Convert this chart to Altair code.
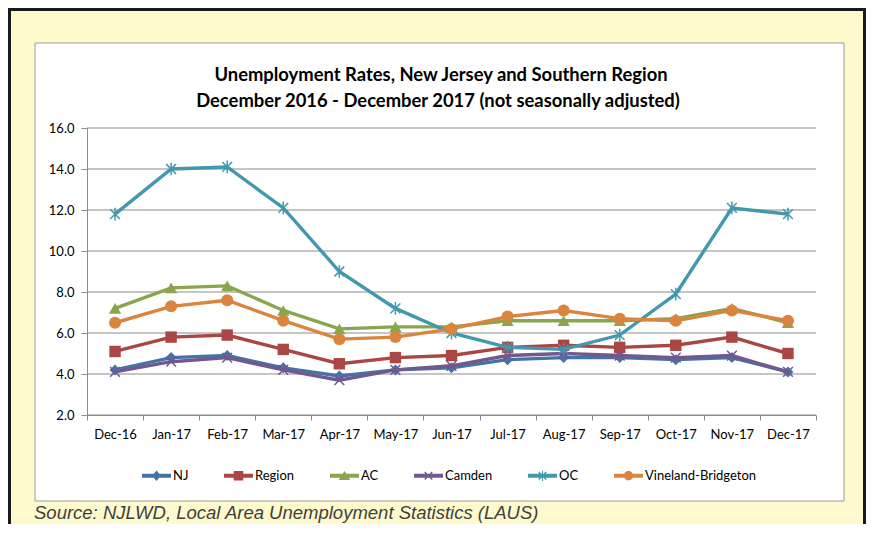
import altair as alt
import pandas as pd

months = ["Dec-16", "Jan-17", "Feb-17", "Mar-17", "Apr-17", "May-17", "Jun-17",
          "Jul-17", "Aug-17", "Sep-17", "Oct-17", "Nov-17", "Dec-17"]
series = ["NJ", "Region", "AC", "Camden", "OC", "Vineland-Bridgeton"]

nj = [4.2, 4.8, 4.9, 4.3, 3.9, 4.2, 4.3, 4.7, 4.8, 4.8, 4.7, 4.8, 4.1]
region = [5.1, 5.8, 5.9, 5.2, 4.5, 4.8, 4.9, 5.3, 5.4, 5.3, 5.4, 5.8, 5.0]
ac = [7.2, 8.2, 8.3, 7.1, 6.2, 6.3, 6.3, 6.6, 6.6, 6.6, 6.7, 7.2, 6.5]
camden = [4.1, 4.6, 4.8, 4.2, 3.7, 4.2, 4.4, 4.9, 5.0, 4.9, 4.8, 4.9, 4.1]
oc = [11.8, 14.0, 14.1, 12.1, 9.0, 7.2, 6.0, 5.3, 5.2, 5.9, 7.9, 12.1, 11.8]
vineland = [6.5, 7.3, 7.6, 6.6, 5.7, 5.8, 6.2, 6.8, 7.1, 6.7, 6.6, 7.1, 6.6]

y_ticks = [2, 4, 6, 8, 10, 12, 14, 16]
title_line1 = "Unemployment Rates, New Jersey and Southern Region"
title_line2 = "December 2016 - December 2017 (not seasonally adjusted)"
source_text = "Source: NJLWD, Local Area Unemployment Statistics (LAUS)"

colors = ["#4572A7", "#AA4643", "#89A54E", "#71588F", "#4198AF", "#DB843D"]

values = [nj, region, ac, camden, oc, vineland]
rows = []
for s, vals in zip(series, values):
    for m, v in zip(months, vals):
        rows.append({"month": m, "series": s, "value": v})
df = pd.DataFrame(rows)

# plot marker styles
X_PATH = "M-1,-1L1,1M-1,1L1,-1"
AST_PATH = "M-1,-1L1,1M-1,1L1,-1M0,-1.3V1.3"
marker_styles = {
    "NJ": dict(shape="diamond", filled=True, size=120),
    "Region": dict(shape="square", filled=True, size=130),
    "AC": dict(shape="triangle-up", filled=True, size=150),
    "Camden": dict(shape=X_PATH, filled=False, size=95, strokeWidth=1.5),
    "OC": dict(shape=AST_PATH, filled=False, size=95, strokeWidth=1.5),
    "Vineland-Bridgeton": dict(shape="circle", filled=True, size=145),
}

# legend symbols (filled outlines only): line segment + marker, unit box -1..1
d = 0.035
BAR = "M-1,-0.13H1V0.13H-1Z"
XB = ("M{a},{b}L{c},{e}L{f},{g}L{h},{i}Z".format(
          a=-0.26 + d, b=-0.26 - d, c=0.26 + d, e=0.26 - d,
          f=0.26 - d, g=0.26 + d, h=-0.26 - d, i=-0.26 + d)
      + "M{a},{b}L{c},{e}L{f},{g}L{h},{i}Z".format(
          a=-0.26 - d, b=0.26 - d, c=0.26 - d, e=-0.26 - d,
          f=0.26 + d, g=-0.26 + d, h=-0.26 + d, i=0.26 + d))
VB = "M{0},-0.36H{1}V0.36H{0}Z".format(-d, d)
legend_paths = [
    BAR + "M0,-0.36L0.3,0L0,0.36L-0.3,0Z",
    BAR + "M-0.33,-0.33H0.33V0.33H-0.33Z",
    BAR + "M0,-0.32L0.4,0.3H-0.4Z",
    BAR + XB,
    BAR + XB + VB,
    BAR + "M-0.32,0A0.32,0.32,0,1,1,0.32,0A0.32,0.32,0,1,1,-0.32,0Z",
]

GRID = "#8c8c8c"
FONT = "Lato"
color_scale = alt.Scale(domain=series, range=colors)
y_scale = alt.Scale(domain=[2, 16], nice=False, zero=False)

x_enc = alt.X("month:N", sort=months,
              scale=alt.Scale(type="band", domain=months, paddingInner=0, paddingOuter=0),
              axis=alt.Axis(title=None, tickBand="extent", grid=False, labelAngle=0,
                            domainColor=GRID, tickColor=GRID, tickSize=5, labelPadding=8,
                            labelFont=FONT, labelFontSize=13, labelColor="black",
                            zindex=1))
y_axis = alt.Axis(title=None, values=y_ticks, format=".1f", grid=False,
                  domainColor=GRID, tickColor=GRID, tickSize=6,
                  labelPadding=7, labelFont=FONT, labelFontSize=13,
                  labelColor="black", zindex=1)
y_enc = alt.Y("value:Q", scale=y_scale, axis=y_axis)

legend_obj = alt.Legend(
    title=None, orient="none", legendX=55, legendY=333, direction="horizontal",
    symbolSize=841, symbolStrokeWidth=0, symbolOpacity=1, padding=0,
    labelFont=FONT, labelFontSize=13, labelColor="black", labelOffset=2,
    columnPadding=35, labelLimit=300, zindex=2)
color_enc = alt.Color("series:N", scale=color_scale, legend=legend_obj)

base = alt.Chart(df)
dummy = alt.Chart(pd.DataFrame({"a": [0]}))

layers = []
# white inner box
layers.append(dummy.mark_rect(fill="white", stroke="#9a9a9a", strokeWidth=1).encode(
    x=alt.value(-52), x2=alt.value(757), y=alt.value(-85), y2=alt.value(373)))
# outer black frame
layers.append(dummy.mark_rect(fillOpacity=0, stroke="#1a1a1a", strokeWidth=3).encode(
    x=alt.value(-77.5), x2=alt.value(777.5), y=alt.value(-118.5), y2=alt.value(600)))
# horizontal gridlines
layers.append(alt.Chart(pd.DataFrame({"value": y_ticks})).mark_rule(
    color=GRID, strokeWidth=1).encode(y=y_enc))
# title lines
layers.append(dummy.mark_text(align="center", baseline="alphabetic", font=FONT,
                              fontWeight="bold", fontSize=18.4, color="black").encode(
    x=alt.value(354), y=alt.value(-47), text=alt.value(title_line1)))
layers.append(dummy.mark_text(align="center", baseline="alphabetic", font=FONT,
                              fontWeight="bold", fontSize=18.4, color="black").encode(
    x=alt.value(351), y=alt.value(-21), text=alt.value(title_line2)))
# source note
layers.append(dummy.mark_text(align="left", baseline="alphabetic", font="Liberation Sans",
                              fontStyle="italic", fontSize=18.5, color="#404040").encode(
    x=alt.value(-53), y=alt.value(391), text=alt.value(source_text)))

for s in series:
    sub = base.transform_filter(alt.datum.series == s)
    layers.append(sub.mark_line(strokeWidth=3.4).encode(
        x=x_enc, y=y_enc, color=color_enc))
    st = marker_styles[s]
    layers.append(sub.mark_point(opacity=1, **st).encode(
        x=x_enc, y=y_enc, color=color_enc))

layers.append(base.mark_point(filled=True, opacity=0).encode(
    x=x_enc, y=y_enc,
    color=color_enc,
    shape=alt.Shape("series:N", scale=alt.Scale(domain=series, range=legend_paths),
                    legend=legend_obj)))

chart = alt.layer(*layers).properties(
    width=729, height=287,
    background="#FFFACD",
    padding={"left": 79, "top": 120, "right": 50, "bottom": 109},
    autosize=alt.AutoSizeParams(type="none"),
).configure_view(stroke=None).configure(font=FONT)

chart.save("out.html", embed_options={"renderer": "svg", "actions": False})
